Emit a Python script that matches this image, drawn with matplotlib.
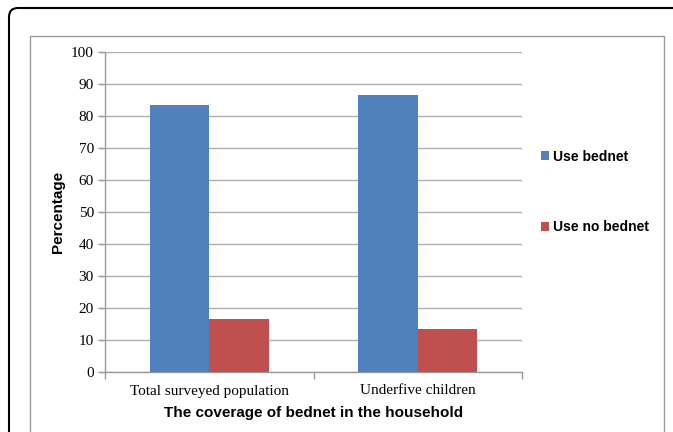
import matplotlib
matplotlib.use("Agg")
import matplotlib.pyplot as plt
from matplotlib.patches import FancyBboxPatch, Rectangle
import numpy as np

categories = ["Total surveyed population", "Underfive children"]
series_names = ["Use bednet", "Use no bednet"]
use_bednet = [83.4, 86.6]
use_no_bednet = [16.6, 13.4]
yticks = [0, 10, 20, 30, 40, 50, 60, 70, 80, 90, 100]

colors = ["#4F81BD", "#C0504D"]

W, H = 673, 432
fig = plt.figure(figsize=(W / 100, H / 100), dpi=100)

# outer rounded black box (display pixel coords, y from bottom)
outer = FancyBboxPatch((9, -60), W + 60, H - 8 + 60,
                       boxstyle="round,pad=0,rounding_size=9",
                       transform=None, fill=False, ec="black", lw=1.5)
fig.patches.append(outer)

# inner gray chart-area box
inner = Rectangle((30, -20), 664 - 30, H - 36 + 20, transform=None,
                  fill=False, ec="#9a9a9a", lw=1.0)
fig.patches.append(inner)

left, right, top, bottom = 105, 522, 52, 372
ax = fig.add_axes([left / W, 1 - bottom / H, (right - left) / W, (bottom - top) / H])

x = np.arange(len(categories))
bw = 0.285
ax.bar(x - bw / 2, use_bednet, bw, color=colors[0], label=series_names[0], zorder=3)
ax.bar(x + bw / 2, use_no_bednet, bw, color=colors[1], label=series_names[1], zorder=3)

ax.set_xlim(-0.5, len(categories) - 0.5)
ax.set_ylim(0, 100)
ax.set_yticks(yticks)
ax.set_yticklabels([str(t) for t in yticks], fontfamily="Liberation Serif", fontsize=11)
ax.yaxis.grid(True, color="#b0b0b0", lw=1.0, zorder=0)
ax.set_axisbelow(True)

ax.set_xticks(x)
ax.set_xticklabels(categories, fontfamily="Liberation Serif", fontsize=11)
ax.tick_params(axis="x", length=0, pad=9)
ax.set_xticks([-0.5, 0.5, 1.5], minor=True)
ax.tick_params(axis="x", which="minor", length=5, color="#999999", width=1.0)
ax.tick_params(axis="y", length=5, color="#999999", width=1.0, pad=3)

for s in ["top", "right"]:
    ax.spines[s].set_visible(False)
for s in ["left", "bottom"]:
    ax.spines[s].set_color("#999999")
    ax.spines[s].set_linewidth(1.0)

ax.set_xlabel("The coverage of bednet in the household", fontfamily="Liberation Sans",
              fontweight="bold", fontsize=11, labelpad=6)
ax.set_ylabel("Percentage", fontfamily="Liberation Sans", fontweight="bold",
              fontsize=11, labelpad=4)

leg = fig.legend(loc="center left", bbox_to_anchor=(528 / W, 1 - 192 / H),
                 frameon=False, prop={"family": "Liberation Sans", "weight": "bold", "size": 10},
                 handlelength=0.6, handleheight=0.6, handletextpad=0.3,
                 labelspacing=4.1)

fig.savefig("out.png", dpi=100)
